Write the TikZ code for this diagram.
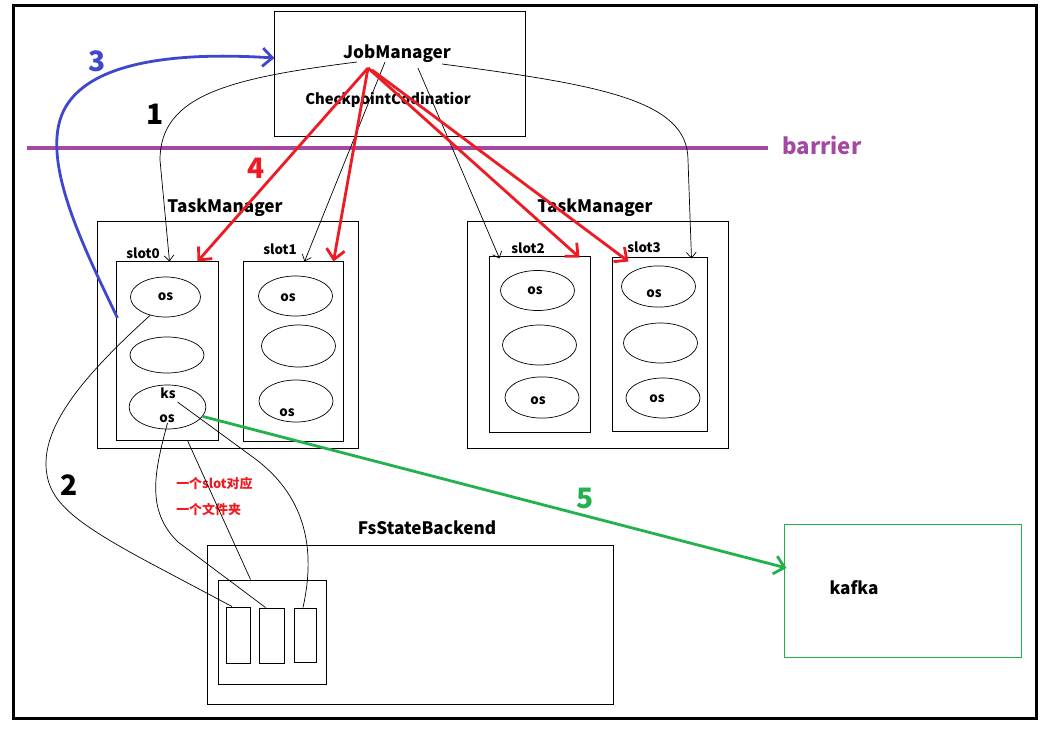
\documentclass[tikz,border=0pt]{standalone}
\usepackage{fontspec}
\setmainfont{Noto Sans CJK SC}
\usetikzlibrary{arrows.meta,shapes.geometric,calc}
\definecolor{ckred}{HTML}{ED1C24}
\definecolor{ckblue}{HTML}{3F48CC}
\definecolor{ckgreen}{HTML}{22B14C}
\definecolor{ckpurple}{HTML}{A349A4}
\tikzset{
  box/.style={draw, line width=0.7pt, inner sep=0pt},
  cell/.style={draw, ellipse, line width=0.5pt, inner sep=0pt, minimum width=1.85cm, minimum height=1cm, font=\bfseries\fontsize{9.5}{11}\selectfont},
  big/.style={font=\bfseries\fontsize{12.2}{14}\selectfont},
  mid/.style={font=\bfseries\fontsize{10.5}{12}\selectfont},
  lbl/.style={font=\bfseries\fontsize{9.5}{11}\selectfont},
  num/.style={font=\bfseries\fontsize{20}{22}\selectfont},
  wire/.style={line width=0.5pt},
  redarrow/.style={draw=ckred, line width=2pt, -{Straight Barb[length=7pt,width=13pt]}},
}
\begin{document}
\begin{tikzpicture}[x=0.025cm, y=-0.025cm, ->, >={Straight Barb[length=4pt,width=7pt]}]
    \useasboundingbox (0,0) rectangle (1044,730);
    \draw[-, line width=2.2pt] (13.5,5.5) rectangle (1036.5,718.5);

    % JobManager
    \node[box, minimum width=6.25cm, minimum height=3.1cm] (jm) at (400,74) {};
    \node[big] (jmtext) at (397,54) {JobManager};
    \node[mid] (cc) at (388,100) {CheckpointCodinatior};

    % barrier
    \coordinate (barL) at (27,148);
    \coordinate (barR) at (768,148);
    \draw[-, draw=ckpurple, line width=2.8pt] (barL) -- (barR);
    \node[font=\bfseries\fontsize{15.8}{18}\selectfont, text=ckpurple, anchor=west, inner sep=0pt] (bar) at (782,145) {barrier};

    % left TaskManager
    \node[big] (tm1title) at (225,208) {TaskManager};
    \node[box, minimum width=6.5cm, minimum height=5.65cm] (tm1) at (228,335) {};
    \node[box, minimum width=2.525cm, minimum height=4.45cm] (slot0) at (167.5,351) {};
    \node[box, minimum width=2.475cm, minimum height=4.475cm] (slot1) at (293.5,351.5) {};
    \node[lbl] (slot0lbl) at (143,253) {slot0};
    \node[lbl] (slot1lbl) at (280,249) {slot1};
    \node[cell, minimum width=1.75cm] (e01) at (165.5,297) {os};
    \node[cell, minimum height=0.9cm] (e02) at (167,355) {};
    \node[cell, minimum width=1.92cm, minimum height=1.1cm] (e03) at (167.5,407) {};
    \node[lbl] (ks) at (168,393) {ks};
    \node[lbl] (os03) at (167,419) {os};
    \node[cell] (e11) at (295.5,296) {};
    \node[lbl] (os11) at (288,298) {os};
    \node[cell, minimum height=1.05cm] (e12) at (298.5,346) {};
    \node[cell, minimum height=1.05cm] (e13) at (296,401) {};
    \node[lbl] (os13) at (287,413) {os};

    % right TaskManager
    \node[big] (tm2title) at (595,208) {TaskManager};
    \node[box, minimum width=6.5cm, minimum height=5.65cm] (tm2) at (598,335) {};
    \node[box, minimum width=2.525cm, minimum height=4.375cm] (slot2) at (539.5,344.5) {};
    \node[box, minimum width=2.375cm, minimum height=4.325cm] (slot3) at (659.5,344.5) {};
    \node[lbl] (slot2lbl) at (528,248) {slot2};
    \node[lbl] (slot3lbl) at (644,247) {slot3};
    \node[cell] (e21) at (537.5,290.5) {};
    \node[lbl] (os21) at (535,291) {os};
    \node[cell] (e22) at (539.5,345) {};
    \node[cell, minimum height=1.03cm] (e23) at (542,397.5) {};
    \node[lbl] (os23) at (538,401) {os};
    \node[cell, minimum height=1.03cm] (e31) at (658.5,286.5) {};
    \node[lbl] (os31) at (654,294) {os};
    \node[cell] (e32) at (660.5,343) {};
    \node[cell] (e33) at (663,398) {};
    \node[lbl] (os33) at (657,399) {os};

    % FsStateBackend
    \node[big] (fsbtitle) at (427,528) {FsStateBackend};
    \node[box, minimum width=10.125cm, minimum height=3.95cm] (fsb) at (410.5,625) {};
    \node[box, minimum width=2.675cm, minimum height=2.6cm] (dir) at (272.5,632) {};
    \node[box, minimum width=0.6cm, minimum height=1.4cm] (f1) at (238,635) {};
    \node[box, minimum width=0.625cm, minimum height=1.375cm] (f2) at (271.5,635.5) {};
    \node[box, minimum width=0.55cm, minimum height=1.35cm] (f3) at (305,635) {};
    \node[text=ckred, font=\bfseries\fontsize{9.2}{11}\selectfont, anchor=west, inner sep=0pt] (note1) at (176,484) {一个slot对应};
    \node[text=ckred, font=\bfseries\fontsize{9.2}{11}\selectfont, anchor=west, inner sep=0pt] (note2) at (176,509) {一个文件夹};

    % kafka
    \node[draw=ckgreen, line width=0.7pt, minimum width=5.9cm, minimum height=3.3cm] (kafka) at (903,591) {};
    \node[big] (kafkatext) at (854,588) {kafka};

    % step numbers
    \node[num, text=ckblue] (n3) at (97,61) {3};
    \node[num] (n1) at (155,114) {1};
    \node[num, text=ckred] (n4) at (256,168) {4};
    \node[num] (n2) at (69,485) {2};
    \node[num, text=ckgreen] (n5) at (585,498) {5};

    % 1: barrier sent to every slot
    \draw[wire] ($(jmtext)+(-40,8)$) .. controls (230,78) and (160,95) .. (160,160) -- ($(slot0.north)+(2,0)$);
    \draw[wire] ($(jmtext)+(-12,8)$) -- ($(slot1.north)+(11,0)$);
    \draw[wire] ($(jmtext)+(21,14)$) -- ($(slot2.north)+(-40,2)$);
    \draw[wire] ($(jmtext)+(45,10)$) .. controls (600,85) and (688,100) .. (688,160) -- ($(slot3.north)+(32,1)$);

    % 4: notify every slot
    \draw[redarrow] ($(jmtext)+(-29,14)$) -- ($(slot0.north)+(30,0)$);
    \draw[redarrow] ($(jmtext)+(-29,14)$) -- ($(slot1.north)+(40,0)$);
    \draw[redarrow] ($(jmtext)+(-29,14)$) -- ($(slot2.north)+(40,1)$);
    \draw[redarrow] ($(jmtext)+(-25,16)$) -- ($(slot3.north)+(-31,4)$);

    % 3: ack back to JobManager
    \draw[draw=ckblue, line width=2pt, -{Straight Barb[length=7pt,width=13pt]}] ($(slot0.west)+(1,-33)$) .. controls (85,250) and (45,170) .. (60,120) .. controls (75,70) and (150,50) .. ($(jm.west)+(0,-16)$);

    % 2: state into the backend
    \draw[wire, -] (e01.230) .. controls (90,370) and (45,420) .. (46,465) .. controls (47,500) and (70,520) .. (150,563) -- ($(f1.north)+(-6,0)$);
    \draw[wire, -] ($(e03)+(0,16)$) .. controls (155,470) and (145,510) .. (178,542) -- ($(f2.north)+(-6,0)$);
    \draw[wire, -] ($(slot0.south)+(20,0)$) -- ($(dir.north)+(-22,0)$);
    \draw[wire, -] ($(e03)+(10,-5)$) -- (250,455) .. controls (300,490) and (318,540) .. ($(f3.north)+(-2,0)$);

    % 5: output to kafka
    \draw[draw=ckgreen, line width=2pt, -{Straight Barb[length=7pt,width=13pt]}] (e03.-15) -- ($(kafka.west)+(2,-23)$);
\end{tikzpicture}
\end{document}
